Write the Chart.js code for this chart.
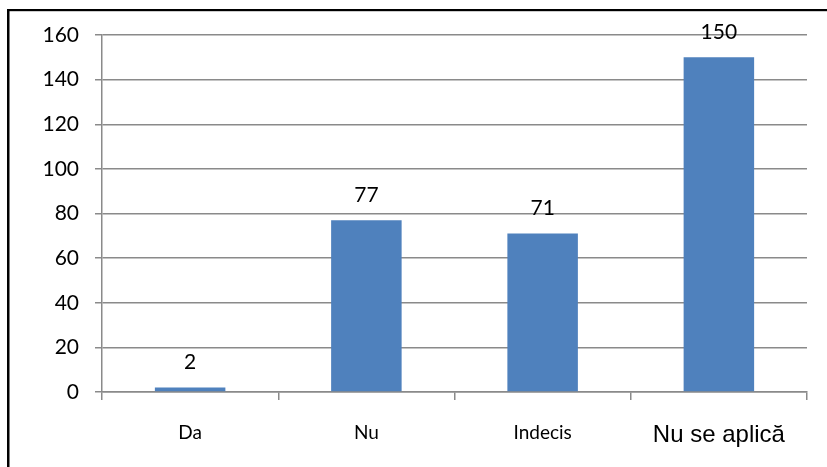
<!DOCTYPE html>
<html>
<head>
<meta charset="utf-8">
<script src="https://cdn.jsdelivr.net/npm/chart.js@4/dist/chart.umd.min.js"></script>
<style>
  html, body { margin: 0; padding: 0; background: #fff; }
  #wrap { position: relative; width: 827px; height: 467px; }
</style>
</head>
<body>
<div id="wrap"><canvas id="c" width="827" height="467"></canvas></div>
<script>
const categories = ["Da", "Nu", "Indecis", "Nu se aplică"];
const values = [2, 77, 71, 150];
const yTicks = [0, 20, 40, 60, 80, 100, 120, 140, 160];

const gridColor = '#8a8a8a';

const valueLabels = {
  id: 'valueLabels',
  afterDatasetsDraw(chart) {
    const ctx = chart.ctx;
    const meta = chart.getDatasetMeta(0);
    ctx.save();
    ctx.font = '21px Lato';
    ctx.fillStyle = '#000';
    ctx.textAlign = 'center';
    ctx.textBaseline = 'middle';
    meta.data.forEach((bar, i) => {
      ctx.fillText(String(values[i]), bar.x, bar.y - 25);
    });
    ctx.restore();
  }
};

const frame = {
  id: 'frame',
  afterDraw(chart) {
    const ctx = chart.ctx;
    ctx.save();
    ctx.fillStyle = '#000';
    ctx.fillRect(7, 9, 2.5, 467 - 9);
    ctx.fillRect(7, 9, 827 - 7, 2.2);
    ctx.restore();
  }
};

new Chart(document.getElementById('c'), {
  type: 'bar',
  data: {
    labels: categories,
    datasets: [{
      data: values,
      backgroundColor: '#4F81BD',
      borderWidth: 0,
      barPercentage: 0.4,
      categoryPercentage: 1.0
    }]
  },
  options: {
    responsive: false,
    animation: false,
    events: [],
    layout: { padding: { top: 35, right: 20, left: 0, bottom: 0 } },
    plugins: { legend: { display: false }, tooltip: { enabled: false } },
    scales: {
      x: {
        afterFit(s) { s.height = 75; },
        grid: {
          offset: true,
          drawOnChartArea: false,
          drawTicks: true,
          tickLength: 8,
          color: gridColor,
          lineWidth: 1.5
        },
        border: { display: true, color: gridColor, width: 1.5 },
        ticks: {
          color: '#000',
          padding: 21,
          font: (c) => c.index === 3
            ? { family: 'Liberation Sans', size: 24 }
            : { family: 'Lato', size: 19 }
        }
      },
      y: {
        min: 0,
        max: 160,
        afterFit(s) { s.width = 102; },
        afterBuildTicks(s) { s.ticks = yTicks.map(v => ({ value: v })); },
        grid: {
          color: gridColor,
          lineWidth: 1.5,
          drawTicks: true,
          tickLength: 7
        },
        border: { display: true, color: gridColor, width: 1.5 },
        ticks: {
          color: '#000',
          padding: 16,
          font: { family: 'Lato', size: 21 }
        }
      }
    }
  },
  plugins: [valueLabels, frame]
});
</script>
</body>
</html>
